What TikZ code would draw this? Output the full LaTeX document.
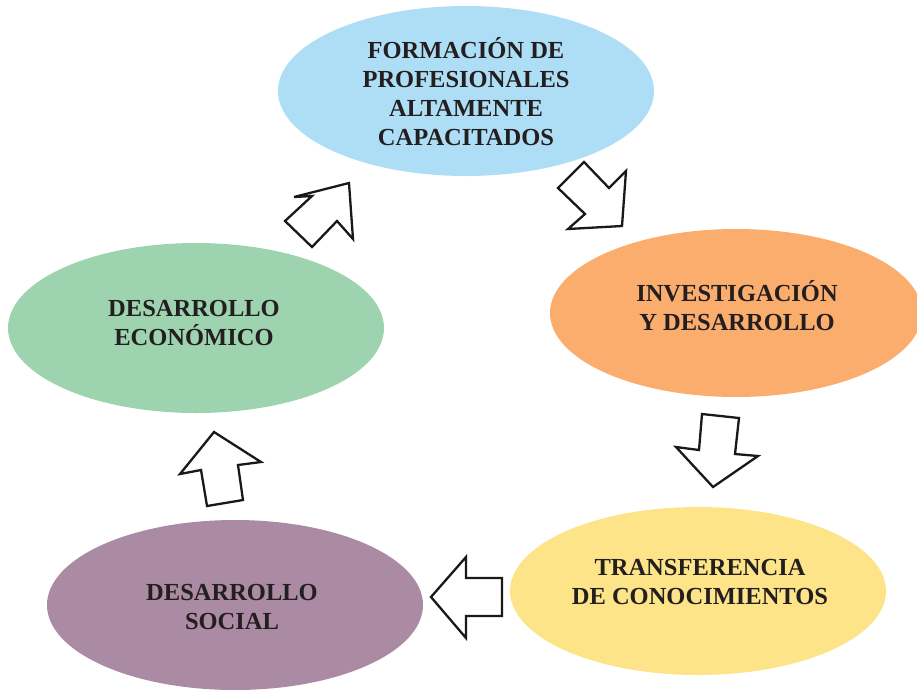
\documentclass[tikz,border=0pt]{standalone}
\usepackage{fontspec}
\setmainfont{Liberation Serif}
\usetikzlibrary{shapes.geometric}
\definecolor{cblue}{RGB}{174,222,245}
\definecolor{corange}{RGB}{251,173,110}
\definecolor{cyellow}{RGB}{253,228,136}
\definecolor{cpurple}{RGB}{171,138,163}
\definecolor{cgreen}{RGB}{158,211,175}
\definecolor{ctext}{RGB}{35,31,32}
\tikzset{
  oval/.style={ellipse, draw=none, minimum width=376pt, minimum height=170pt, inner sep=0pt},
  ovaltext/.style={align=center, text=ctext, inner sep=0pt, font=\fontsize{24.5}{29}\selectfont\bfseries},
  blockarrow/.style={draw=black!90, line width=2.3pt, fill=white, line join=miter}
}
\begin{document}
\begin{tikzpicture}[x=1pt,y=-1pt]
\useasboundingbox (0,0) rectangle (917,689);
\node[oval, fill=cblue] (form) at (466,91) {};
\node[oval, fill=corange, minimum width=372pt, minimum height=168pt] (inv) at (736,313) {};
\node[oval, fill=cyellow, minimum height=168pt] (trans) at (698,591) {};
\node[oval, fill=cpurple] (soc) at (235,605) {};
\node[oval, fill=cgreen] (eco) at (196,328) {};
\node[ovaltext] (formt) at (466,92) {FORMACIÓN DE\\PROFESIONALES\\ALTAMENTE\\CAPACITADOS};
\node[ovaltext] (invt) at (737,306) {INVESTIGACIÓN\\Y DESARROLLO};
\node[ovaltext] (transt) at (700,582) {TRANSFERENCIA\\DE CONOCIMIENTOS};
\node[ovaltext] (soct) at (232,607) {DESARROLLO\\SOCIAL};
\node[ovaltext] (ecot) at (194,323) {DESARROLLO\\ECONÓMICO};
% block arrows
\draw[blockarrow] (294,197) -- (349,183) -- (353,239) -- (337,221) -- (312,247) -- (285,221) -- (312,196) -- cycle;
\draw[blockarrow] (584,162) -- (609,188) -- (626,171) -- (622,226) -- (568,229) -- (585,214) -- (558,188) -- cycle;
\draw[blockarrow] (702,414) -- (739,418) -- (735,454) -- (758,456) -- (713,487) -- (676,447) -- (699,450) -- cycle;
\draw[blockarrow] (431,597) -- (466,557) -- (466,578) -- (502,578) -- (502,616) -- (466,616) -- (466,638) -- cycle;
\draw[blockarrow] (214,432) -- (261,462) -- (238,465) -- (243,500) -- (207,506) -- (201,470) -- (180,474) -- cycle;
\end{tikzpicture}
\end{document}
